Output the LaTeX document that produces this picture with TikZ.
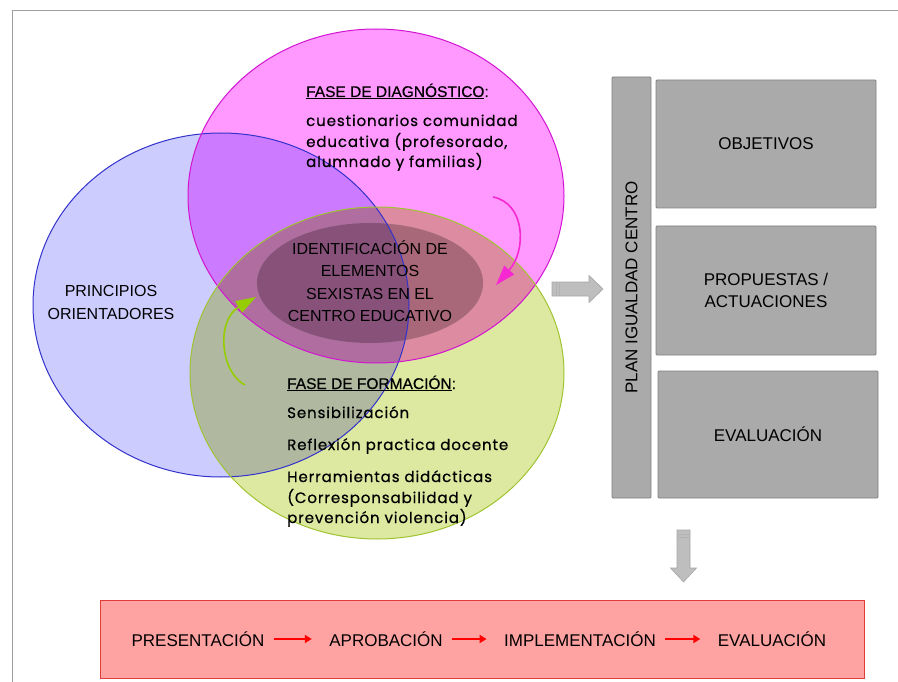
\documentclass[tikz,border=0pt]{standalone}
\usepackage{fontspec}
\setmainfont{Liberation Sans}
\newfontfamily\fasefont[LetterSpace=6,FakeBold=0.6]{Poppins}
\newfontfamily\titfont[FakeBold=0.5]{Liberation Sans}
\usetikzlibrary{arrows.meta}
\definecolor{principios}{RGB}{204,204,255}
\definecolor{principiosborde}{RGB}{51,51,204}
\definecolor{diagnostico}{RGB}{255,153,255}
\definecolor{diagnosticoborde}{RGB}{210,20,210}
\definecolor{formacion}{RGB}{221,232,160}
\definecolor{formacionborde}{RGB}{160,195,50}
\definecolor{nucleo}{RGB}{196,190,196}
\definecolor{cajagris}{RGB}{170,170,170}
\definecolor{bordegris}{RGB}{128,128,128}
\definecolor{flechagris}{RGB}{190,190,190}
\definecolor{fasesrojo}{RGB}{255,162,162}
\definecolor{fasesborde}{RGB}{225,60,60}
\definecolor{flechadiag}{RGB}{245,40,210}
\definecolor{flechaform}{RGB}{150,205,0}
\begin{document}
\begin{tikzpicture}[x=1pt,y=-1pt,
    mayus/.style={font=\fontsize{17}{22}\selectfont,align=center},
    fase/.style={font=\fasefont\fontsize{15}{20}\selectfont,anchor=base west,inner sep=0},
    fasetit/.style={font=\titfont\fontsize{15.5}{20}\selectfont,anchor=base west,inner sep=0},
    caja/.style={draw=bordegris,fill=cajagris,line width=0.8pt,rounded corners=1pt,mayus},
    flecha/.style={draw=bordegris!70,fill=flechagris,line width=0.6pt},
    pasoflecha/.style={red,line width=2pt,-{Triangle[length=7pt,width=8pt]},shorten <=6pt,shorten >=14pt}]
  \useasboundingbox (0,0) rectangle (898,682);
  \draw[gray!75,line width=1pt] (12,682) -- (12,11) -- (898,11);

  \begin{scope}[blend mode=multiply]
    \fill[principios] (221,305) ellipse[x radius=188,y radius=172];
    \fill[diagnostico] (376,196) ellipse[x radius=188,y radius=167];
    \fill[formacion] (377,373) ellipse[x radius=187,y radius=166];
    \fill[nucleo] (370,283) ellipse[x radius=113,y radius=60];
  \end{scope}
  \draw[principiosborde,line width=1pt] (221,305) ellipse[x radius=188,y radius=172];
  \draw[diagnosticoborde,line width=1pt] (376,196) ellipse[x radius=188,y radius=167];
  \draw[formacionborde,line width=1pt] (377,373) ellipse[x radius=187,y radius=166];
  \draw[gray,dotted] (370,283) ellipse[x radius=113,y radius=60];

  \node[mayus,font=\fontsize{16}{23}\selectfont] (principiostxt) at (111,302) {PRINCIPIOS\\ORIENTADORES};
  \node[mayus,font=\fontsize{16}{22.5}\selectfont] (elementos) at (370,281) {IDENTIFICACIÓN DE\\ELEMENTOS\\SEXISTAS EN EL\\CENTRO EDUCATIVO};

  \node[fasetit] (diagtit) at (306,97) {\underline{FASE DE DIAGNÓSTICO}:};
  \node[fase] (diag1) at (306,126) {cuestionarios comunidad};
  \node[fase] (diag2) at (306,147) {educativa (profesorado,};
  \node[fase] (diag3) at (306,167) {alumnado y familias)};
  \node[fasetit] (formtit) at (287,389) {\underline{FASE DE FORMACIÓN}:};
  \node[fase] (form1) at (287,418) {Sensibilización};
  \node[fase] (form2) at (287,450) {Reflexión practica docente};
  \node[fase] (form3) at (287,482) {Herramientas didácticas};
  \node[fase] (form4) at (287,503) {(Corresponsabilidad y};
  \node[fase] (form5) at (287,523) {prevención violencia)};

  \coordinate (diagsal) at (493,197);
  \coordinate (diagfin) at (496,285);
  \draw[flechadiag,line width=1.6pt,-{Triangle[length=20pt,width=13pt]}] (diagsal) .. controls (525,203) and (527,250) .. (diagfin);
  \coordinate (formsal) at (245,385);
  \coordinate (formfin) at (256,297);
  \draw[flechaform,line width=1.6pt,-{Triangle[length=20pt,width=13pt]}] (formsal) .. controls (220,372) and (216,320) .. (formfin);

  \node[caja,rotate=90,minimum width=421,minimum height=39] (plan) at (631.5,287.5) {PLAN IGUALDAD CENTRO};
  \node[caja,minimum width=220,minimum height=128] (objetivos) at (766,144) {OBJETIVOS};
  \node[caja,minimum width=220,minimum height=129] (propuestas) at (766,290.5) {PROPUESTAS /\\ACTUACIONES};
  \node[caja,minimum width=220,minimum height=127] (evaluacion) at (768,434.5) {EVALUACIÓN};

  \draw[flecha] (552,282) -- (589,282) -- (589,275.5) -- (603,289) -- (589,302.5) -- (589,296) -- (552,296) -- cycle;
  \draw[bordegris!60] (556,282) -- (556,296) (559.5,282) -- (559.5,296);
  \draw[flecha] (677,530) -- (690,530) -- (690,568) -- (696.5,568) -- (683.5,582) -- (670.5,568) -- (677,568) -- cycle;
  \draw[bordegris!60] (677,534) -- (690,534) (677,537.5) -- (690,537.5);

  \node[draw=fasesborde,fill=fasesrojo,line width=1pt,minimum width=764,minimum height=78] (fases) at (482,639) {};
  \node[mayus] (presentacion) at (198,639) {PRESENTACIÓN};
  \node[mayus] (aprobacion) at (386,639) {APROBACIÓN};
  \node[mayus] (implementacion) at (580,639) {IMPLEMENTACIÓN};
  \node[mayus] (evalfinal) at (772,639) {EVALUACIÓN};
  \draw[pasoflecha] (presentacion) -- (aprobacion);
  \draw[pasoflecha] (aprobacion) -- (implementacion);
  \draw[pasoflecha] (implementacion) -- (evalfinal);
\end{tikzpicture}
\end{document}
